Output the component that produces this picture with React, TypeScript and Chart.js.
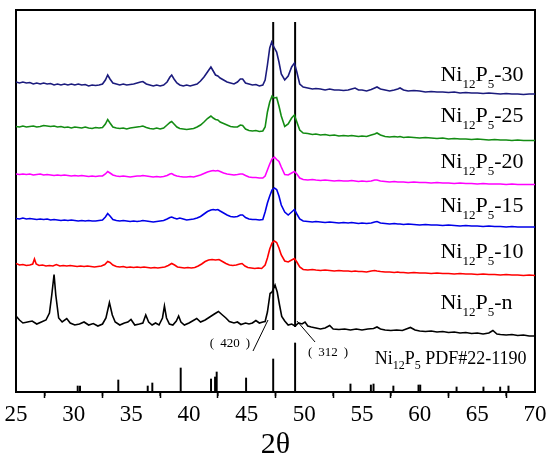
import { useEffect, useRef } from "react";
import { Chart, registerables, type Plugin } from "chart.js";

Chart.register(...registerables);

type Pt = [number, number];

// intensities in arbitrary units, already offset per sample (stacked pattern)
const sample30: Pt[] = [
  [25, 310], [25.3, 309], [25.6, 310], [25.9, 309], [26.2, 309.5], [26.5, 308], [26.8, 309], [27.1, 308],
  [27.4, 309], [27.7, 308], [28.0, 308.5], [28.3, 307], [28.6, 308], [28.9, 307], [29.2, 308], [29.5, 307],
  [29.8, 308], [30.1, 307], [30.4, 308], [30.7, 307], [31.0, 307.5], [31.3, 306], [31.6, 307], [31.9, 306.5],
  [32.2, 307], [32.5, 308], [32.75, 312], [32.95, 317], [33.15, 313], [33.4, 309], [33.7, 308], [34.0, 307],
  [34.3, 308], [34.6, 307], [34.9, 307.5], [35.2, 308], [35.5, 309], [35.8, 310], [36.0, 310.5], [36.3, 308],
  [36.6, 307], [36.9, 306], [37.2, 307], [37.5, 306], [37.8, 307], [38.1, 310], [38.35, 315], [38.5, 317],
  [38.7, 313], [38.95, 309], [39.2, 307], [39.5, 306], [39.8, 307], [40.1, 306], [40.4, 307], [40.7, 308],
  [41.0, 311], [41.3, 315], [41.6, 320], [41.9, 325], [42.1, 321], [42.3, 317], [42.5, 316], [42.7, 314],
  [43.0, 312], [43.3, 310], [43.6, 309], [43.9, 308], [44.2, 310], [44.45, 313], [44.65, 313], [44.9, 309],
  [45.2, 308], [45.5, 307], [45.8, 307.5], [46.1, 306], [46.4, 307], [46.6, 312], [46.8, 327], [47.0, 344],
  [47.17, 350], [47.35, 345], [47.6, 340], [47.8, 330], [48.0, 318], [48.3, 312], [48.6, 316], [48.9, 325],
  [49.14, 329], [49.35, 320], [49.6, 308], [49.9, 305], [50.3, 304], [50.7, 303], [51.0, 303.5], [51.4, 303],
  [51.8, 302], [52.2, 303], [52.6, 302], [53.0, 302], [53.4, 301.5], [53.8, 302], [54.1, 303], [54.4, 304],
  [54.7, 302], [55.0, 302], [55.4, 301], [55.8, 302.5], [56.1, 304], [56.3, 305], [56.6, 303], [57.0, 302],
  [57.4, 301], [57.8, 302], [58.1, 303], [58.3, 304], [58.6, 302], [59.0, 301], [59.5, 301.5], [60.0, 301],
  [60.5, 300], [61.0, 300.5], [61.5, 300], [62.0, 300], [62.5, 299.5], [63.0, 300], [63.5, 299], [64.0, 299.5],
  [64.5, 299], [65.0, 299], [65.5, 298.5], [66.0, 299], [66.5, 298.5], [67.0, 298], [67.5, 298.5], [68.0, 298],
  [68.5, 298], [69.0, 297.5], [69.5, 298], [70.0, 298],
];

const sample25: Pt[] = [
  [25, 265.5], [25.3, 265], [25.6, 266], [25.9, 265], [26.2, 265.5], [26.5, 266], [26.8, 265], [27.1, 265.5],
  [27.4, 266.5], [27.7, 266], [28.0, 265.5], [28.3, 266], [28.6, 265], [28.9, 265.5], [29.2, 264.5], [29.5, 265],
  [29.8, 264], [30.1, 265], [30.4, 264.5], [30.7, 264], [31.0, 265], [31.3, 264], [31.6, 263.5], [31.9, 264.5],
  [32.2, 264], [32.5, 264.5], [32.75, 268], [32.95, 272.5], [33.15, 269], [33.4, 265], [33.7, 264], [34.0, 263.5],
  [34.3, 264], [34.6, 263], [34.9, 264], [35.2, 264.5], [35.5, 265], [35.8, 265.5], [36.0, 266], [36.3, 264.5],
  [36.6, 263.5], [36.9, 263], [37.2, 264], [37.5, 263], [37.8, 264], [38.1, 267], [38.35, 269.5], [38.5, 270.5],
  [38.7, 268], [38.95, 265], [39.2, 263.5], [39.5, 263], [39.8, 262.5], [40.1, 263], [40.4, 263.5], [40.7, 265],
  [41.0, 267], [41.3, 270], [41.6, 273.5], [41.9, 276], [42.1, 274], [42.3, 272.5], [42.5, 272], [42.7, 270],
  [43.0, 268.5], [43.3, 267], [43.6, 265.5], [43.9, 265], [44.2, 265], [44.45, 267], [44.65, 266.5], [44.9, 263],
  [45.2, 261.5], [45.5, 261], [45.8, 261.5], [46.1, 260.5], [46.4, 261], [46.6, 265], [46.8, 280], [47.0, 290],
  [47.2, 296], [47.4, 294], [47.6, 294.5], [47.8, 286], [48.0, 276], [48.3, 265.5], [48.6, 268], [48.9, 274],
  [49.14, 277], [49.35, 270], [49.6, 262], [49.9, 259], [50.3, 258.5], [50.7, 257.5], [51.0, 258], [51.4, 257],
  [51.8, 257.5], [52.2, 256.5], [52.6, 257], [53.0, 256], [53.4, 256.5], [53.8, 256], [54.1, 256.5], [54.4, 256],
  [54.7, 255.5], [55.0, 256], [55.4, 255.5], [55.8, 257], [56.1, 258], [56.3, 259], [56.6, 257], [57.0, 255.5],
  [57.4, 255], [57.8, 255.5], [58.1, 255], [58.3, 255.5], [58.6, 254.5], [59.0, 255], [59.5, 254.5], [60.0, 254],
  [60.5, 254.5], [61.0, 254], [61.5, 253.5], [62.0, 254], [62.5, 253], [63.0, 253.5], [63.5, 253], [64.0, 253],
  [64.5, 252.5], [65.0, 253], [65.5, 252.5], [66.0, 252], [66.5, 252.5], [67.0, 252], [67.5, 252], [68.0, 251.5],
  [68.5, 252], [69.0, 251.5], [69.5, 251.5], [70.0, 251.5],
];

const sample20: Pt[] = [
  [25, 218], [25.3, 217.5], [25.6, 218], [25.9, 217.5], [26.2, 218], [26.5, 217], [26.8, 217.5], [27.1, 218],
  [27.4, 217], [27.7, 217.5], [28.0, 217], [28.3, 216.5], [28.6, 217], [28.9, 216.5], [29.2, 217], [29.5, 216.5],
  [29.8, 216], [30.1, 216.5], [30.4, 216], [30.7, 216.5], [31.0, 216], [31.3, 215.5], [31.6, 216], [31.9, 215.5],
  [32.2, 216], [32.5, 216], [32.75, 218], [32.95, 220.5], [33.15, 219], [33.4, 217], [33.7, 216], [34.0, 215.5],
  [34.3, 216], [34.6, 215.5], [34.9, 215], [35.2, 215.5], [35.5, 216], [35.8, 216], [36.0, 216.5], [36.3, 216],
  [36.6, 215.5], [36.9, 215], [37.2, 215.5], [37.5, 215], [37.8, 215.5], [38.1, 216.5], [38.35, 218], [38.5, 218.5],
  [38.7, 217], [38.95, 216], [39.2, 215.5], [39.5, 215], [39.8, 215], [40.1, 215.5], [40.4, 215], [40.7, 216],
  [41.0, 217], [41.3, 218.5], [41.6, 220], [41.9, 221], [42.1, 221.5], [42.3, 221], [42.5, 221.5], [42.7, 220.5],
  [43.0, 219], [43.3, 218], [43.6, 217.5], [43.9, 217], [44.2, 217.5], [44.45, 218], [44.65, 218], [44.9, 216.5],
  [45.2, 215], [45.5, 214.5], [45.8, 214.5], [46.1, 214], [46.4, 214], [46.6, 216], [46.8, 222], [47.0, 228],
  [47.2, 233], [47.4, 235], [47.6, 232.5], [47.8, 230.5], [48.0, 225], [48.3, 217.5], [48.6, 217], [48.9, 219],
  [49.14, 220.5], [49.35, 218], [49.6, 214], [49.9, 212.5], [50.3, 212], [50.7, 212.5], [51.0, 212], [51.4, 211.5],
  [51.8, 212], [52.2, 211.5], [52.6, 211], [53.0, 211.5], [53.4, 211], [53.8, 211], [54.1, 211.5], [54.4, 211],
  [54.7, 210.5], [55.0, 211], [55.4, 210.5], [55.8, 211], [56.1, 212], [56.3, 212], [56.6, 211], [57.0, 210.5],
  [57.4, 210], [57.8, 210.5], [58.1, 210], [58.3, 210], [58.6, 210], [59.0, 209.5], [59.5, 210], [60.0, 209.5],
  [60.5, 209.5], [61.0, 209], [61.5, 209.5], [62.0, 209], [62.5, 209], [63.0, 208.5], [63.5, 209], [64.0, 208.5],
  [64.5, 208.5], [65.0, 208], [65.5, 208.5], [66.0, 208], [66.5, 208], [67.0, 208], [67.5, 207.5], [68.0, 208],
  [68.5, 207.5], [69.0, 207.5], [69.5, 207.5], [70.0, 207.5],
];

const sample15: Pt[] = [
  [25, 173.5], [25.3, 173], [25.6, 174], [25.9, 173], [26.2, 173.5], [26.5, 173], [26.8, 172.5], [27.1, 173],
  [27.4, 172.5], [27.7, 173], [28.0, 172], [28.3, 172.5], [28.6, 172], [28.9, 171.5], [29.2, 172], [29.5, 171.5],
  [29.8, 172], [30.1, 171.5], [30.4, 171], [30.7, 171.5], [31.0, 171], [31.3, 171.5], [31.6, 171], [31.9, 171],
  [32.2, 171.5], [32.5, 172], [32.75, 175], [32.95, 178.5], [33.15, 176], [33.4, 172.5], [33.7, 171.5], [34.0, 171],
  [34.3, 171.5], [34.6, 171], [34.9, 170.5], [35.2, 171], [35.5, 170.5], [35.8, 171], [36.0, 171.5], [36.3, 171],
  [36.6, 170.5], [36.9, 170], [37.2, 170.5], [37.5, 171], [37.8, 171.5], [38.1, 173], [38.35, 174.5], [38.5, 175],
  [38.7, 174], [38.95, 173], [39.2, 174], [39.5, 173], [39.8, 172], [40.1, 172.5], [40.4, 173], [40.7, 174],
  [41.0, 175.5], [41.3, 178], [41.6, 180.5], [41.9, 182], [42.1, 182.5], [42.3, 182], [42.5, 182.5], [42.7, 181],
  [43.0, 179], [43.3, 177], [43.6, 175.5], [43.9, 175], [44.2, 175.5], [44.45, 177], [44.65, 177], [44.9, 174.5],
  [45.2, 173], [45.5, 172.5], [45.8, 172.5], [46.1, 172], [46.4, 172.5], [46.6, 180], [46.8, 189], [47.0, 196],
  [47.2, 202], [47.4, 204], [47.6, 202.5], [47.8, 196], [48.0, 187], [48.3, 180], [48.6, 177], [48.9, 180],
  [49.14, 182.5], [49.35, 178], [49.6, 173], [49.9, 171], [50.3, 170.5], [50.7, 170], [51.0, 170.5], [51.4, 170],
  [51.8, 169.5], [52.2, 170], [52.6, 169.5], [53.0, 169], [53.4, 169.5], [53.8, 169], [54.1, 169.5], [54.4, 169],
  [54.7, 168.5], [55.0, 169], [55.4, 168.5], [55.8, 169], [56.1, 170], [56.3, 170.5], [56.6, 169], [57.0, 168.5],
  [57.4, 168], [57.8, 168.5], [58.1, 168], [58.3, 168], [58.6, 167.5], [59.0, 168], [59.5, 167.5], [60.0, 167],
  [60.5, 167.5], [61.0, 167], [61.5, 167], [62.0, 166.5], [62.5, 167], [63.0, 166.5], [63.5, 166], [64.0, 166.5],
  [64.5, 166], [65.0, 166], [65.5, 165.5], [66.0, 166], [66.5, 165.5], [67.0, 165.5], [67.5, 165], [68.0, 165.5],
  [68.5, 165], [69.0, 165], [69.5, 165], [70.0, 165],
];

const sample10: Pt[] = [
  [25, 128.5], [25.3, 127], [25.6, 127.5], [25.9, 126.5], [26.2, 127], [26.45, 128], [26.6, 133], [26.75, 128],
  [27.0, 126.5], [27.3, 127], [27.6, 126], [27.9, 126.5], [28.2, 126], [28.5, 127.5], [28.8, 126], [29.1, 126.5],
  [29.4, 126], [29.7, 126.5], [30.0, 126], [30.3, 125.5], [30.6, 126], [30.9, 125.5], [31.2, 126], [31.5, 125.5],
  [31.8, 125], [32.1, 125.5], [32.4, 126], [32.7, 127.5], [32.95, 130.5], [33.15, 129.5], [33.4, 127], [33.7, 125.5],
  [34.0, 125], [34.3, 125.5], [34.6, 124.5], [34.9, 125], [35.2, 124.5], [35.5, 125], [35.8, 124.5], [36.1, 125],
  [36.4, 124.5], [36.7, 124], [37.0, 124.5], [37.3, 124], [37.6, 124.5], [37.9, 125], [38.2, 126.5], [38.5, 128.5],
  [38.75, 127], [39.0, 125], [39.3, 124.5], [39.6, 124], [39.9, 124.5], [40.2, 124], [40.5, 124.5], [40.8, 126],
  [41.1, 128], [41.4, 130.5], [41.7, 132], [42.0, 132.5], [42.3, 132], [42.6, 132.5], [42.9, 130.5], [43.2, 128.5],
  [43.5, 127], [43.8, 126.5], [44.1, 127], [44.4, 128], [44.6, 128.5], [44.85, 126], [45.1, 124.5], [45.4, 124],
  [45.7, 123.5], [46.0, 124], [46.3, 123.5], [46.6, 127], [46.8, 134], [47.0, 143], [47.2, 149], [47.4, 151],
  [47.6, 149.5], [47.8, 144], [48.0, 137], [48.3, 131], [48.6, 130], [48.9, 132], [49.14, 133.5], [49.35, 130],
  [49.6, 125], [49.9, 122.5], [50.3, 122], [50.7, 122.5], [51.0, 122], [51.4, 121.5], [51.8, 122], [52.2, 121.5],
  [52.6, 121], [53.0, 121.5], [53.4, 121], [53.8, 121], [54.1, 120.5], [54.4, 121], [54.7, 120.5], [55.0, 120.5],
  [55.4, 120], [55.8, 121], [56.1, 121.5], [56.3, 121], [56.6, 120.5], [57.0, 120], [57.4, 120], [57.8, 119.5],
  [58.1, 120], [58.3, 119.5], [58.6, 119.5], [59.0, 119], [59.5, 119.5], [60.0, 119], [60.5, 119], [61.0, 118.5],
  [61.5, 119], [62.0, 118.5], [62.5, 118.5], [63.0, 118], [63.5, 118.5], [64.0, 118], [64.5, 118], [65.0, 117.5],
  [65.5, 118], [66.0, 117.5], [66.5, 117.5], [67.0, 117], [67.5, 117.5], [68.0, 117], [68.5, 117], [69.0, 116.5],
  [69.5, 117], [70.0, 116.5],
];

const sampleN: Pt[] = [
  [25, 76], [25.3, 72], [25.6, 69], [26.0, 70], [26.4, 71], [26.8, 68], [27.2, 70], [27.6, 72],
  [27.9, 79], [28.1, 97], [28.3, 117.5], [28.45, 97], [28.7, 74], [29.0, 70], [29.4, 73.5], [29.7, 69],
  [30.1, 67], [30.5, 68], [30.9, 70], [31.3, 67], [31.7, 68.5], [32.1, 66], [32.5, 68], [32.8, 74],
  [33.1, 89.5], [33.35, 77], [33.6, 70], [34.0, 67], [34.4, 69], [34.7, 70], [34.97, 72.5], [35.3, 67],
  [35.7, 68], [36.0, 69], [36.25, 77], [36.5, 70], [36.8, 67], [37.1, 69], [37.4, 67], [37.7, 74],
  [37.87, 86], [38.05, 74], [38.3, 68], [38.6, 67], [38.9, 71], [39.1, 76], [39.3, 70], [39.6, 67],
  [40.0, 69], [40.3, 71], [40.67, 73.5], [41.0, 70], [41.4, 72], [41.8, 75], [42.2, 78], [42.55, 80.5],
  [42.9, 77], [43.2, 74], [43.5, 70.5], [43.9, 69], [44.2, 70], [44.5, 67.5], [44.9, 69], [45.2, 68],
  [45.5, 69], [45.8, 71.5], [46.1, 69], [46.4, 70], [46.6, 70.5], [46.8, 80], [47.03, 98.5], [47.2, 100],
  [47.46, 107], [47.65, 100], [47.85, 87], [48.04, 75.5], [48.3, 71], [48.6, 67], [48.9, 68], [49.2, 66],
  [49.5, 69], [49.8, 68], [50.06, 70], [50.3, 66], [50.6, 65], [51.0, 64], [51.4, 63], [51.8, 64],
  [52.2, 66.5], [52.5, 63], [53.0, 62.5], [53.5, 63], [54.0, 62], [54.5, 63], [55.0, 62], [55.5, 63],
  [56.0, 63.5], [56.3, 65], [56.6, 63], [57.0, 62], [57.5, 61.5], [58.0, 62], [58.5, 61.5], [59.2, 64.5],
  [59.6, 62], [60.0, 61], [60.5, 60.5], [61.0, 61], [61.5, 60], [62.0, 60.5], [62.5, 59.5], [63.0, 60],
  [63.5, 59], [64.0, 59.5], [64.5, 58.5], [65.0, 59], [65.5, 58], [66.0, 59], [66.35, 61.5], [66.7, 58],
  [67.0, 57.5], [67.5, 57], [68.0, 57.5], [68.5, 56.5], [69.0, 57], [69.5, 56], [70.0, 56],
];

const sampleSeries = [sample30, sample25, sample20, sample15, sample10, sampleN];
const sampleNames = ["-30", "-25", "-20", "-15", "-10", "-n"];
const sampleColors = ["#1b1b7d", "#138c13", "#ff00ff", "#0000e8", "#ff0000", "#000000"];
const labelIntensity = [311, 270, 224, 180, 134, 83];
const labelTheta = 61.8;

// Ni12P5 PDF#22-1190 reference sticks: [2θ, relative height]
const pdfSticks: Pt[] = [
  [30.35, 6], [30.55, 6], [33.87, 12], [36.42, 6], [36.82, 9], [39.28, 24], [41.91, 13], [42.26, 15],
  [42.4, 20], [44.95, 14], [47.3, 33], [49.2, 49], [54.0, 8], [55.77, 7], [56.0, 8], [57.72, 6],
  [59.9, 7], [60.05, 7], [63.2, 5], [65.53, 5], [66.98, 5], [67.7, 6],
];
const pdfLabelAt: Pt = [56.1, 28];

// guide lines through the (420) and (312) reflections
const refPeaks = [47.3, 49.2];
const refTop = 370;
const refBottom = [62, 65];

const hklLabels = ["420", "312"];
const hklTextAt: Pt[] = [[43.55, 45], [52.05, 36]];
const hklLeaders: [Pt, Pt][] = [
  [[45.55, 41], [46.85, 72]],
  [[49.36, 71], [50.93, 50]],
];

const minorTicks = [27.5, 32.5, 37.5, 42.5, 47.5, 52.5, 57.5, 62.5, 67.5];

const serif = '"Liberation Serif", "Times New Roman", serif';

function drawChem(ctx: CanvasRenderingContext2D, x: number, y: number, suffix: string, main: number, sub: number) {
  const parts: [string, boolean][] = [["Ni", false], ["12", true], ["P", false], ["5", true], [suffix, false]];
  let cx = x;
  for (const [t, isSub] of parts) {
    ctx.font = `${isSub ? sub : main}px ${serif}`;
    ctx.fillText(t, cx, isSub ? y + main * 0.3 : y);
    cx += ctx.measureText(t).width;
  }
}

// "（hkl）": wide brackets with a gap round the serif digits, centred on cx
function drawHkl(ctx: CanvasRenderingContext2D, cx: number, y: number, hkl: string) {
  ctx.font = `13px ${serif}`;
  const dw = ctx.measureText(hkl).width;
  const bw = ctx.measureText("(").width;
  const gap = 6;
  ctx.textAlign = "center";
  ctx.fillText(hkl, cx, y);
  ctx.fillText("(", cx - dw / 2 - gap - bw / 2, y);
  ctx.fillText(")", cx + dw / 2 + gap + bw / 2, y);
}

const decor: Plugin<"line"> = {
  id: "decor",
  afterDraw(chart) {
    const { ctx, chartArea: a, scales } = chart;
    const xs = scales.x;
    const ys = scales.y;
    ctx.save();
    ctx.strokeStyle = "#000";
    ctx.fillStyle = "#000";
    ctx.lineWidth = 1.5;
    for (const t of minorTicks) {
      const px = xs.getPixelForValue(t);
      ctx.beginPath();
      ctx.moveTo(px, a.bottom);
      ctx.lineTo(px, a.bottom + 4);
      ctx.stroke();
    }

    ctx.textAlign = "left";
    ctx.textBaseline = "alphabetic";
    sampleNames.forEach((name, i) => {
      drawChem(ctx, xs.getPixelForValue(labelTheta), ys.getPixelForValue(labelIntensity[i]), name, 22, 13);
    });
    drawChem(ctx, xs.getPixelForValue(pdfLabelAt[0]), ys.getPixelForValue(pdfLabelAt[1]), " PDF#22-1190", 18, 12);

    hklLabels.forEach((t, i) => {
      drawHkl(ctx, xs.getPixelForValue(hklTextAt[i][0]), ys.getPixelForValue(hklTextAt[i][1]), t);
    });
    ctx.restore();
  },
};

// axes that only draw the frame of the plot box
const frameAxis = {
  type: "linear" as const,
  ticks: { display: false },
  grid: { drawOnChartArea: false, drawTicks: false },
  border: { display: true, color: "#000", width: 2 },
};

export default function App() {
  const canvasRef = useRef<HTMLCanvasElement>(null);

  useEffect(() => {
    document.body.style.margin = "0";
    const canvas = canvasRef.current;
    if (!canvas) return;

    const lines = sampleSeries.map((s, i) => ({
      type: "line" as const,
      data: s.map(([x, y]) => ({ x, y })),
      borderColor: sampleColors[i],
      borderWidth: 1.6,
      pointRadius: 0,
      tension: 0,
    }));
    const guides = refPeaks.map((p, i) => ({
      type: "line" as const,
      data: [{ x: p, y: refBottom[i] }, { x: p, y: refTop }],
      borderColor: "#000",
      borderWidth: 2,
      pointRadius: 0,
    }));
    const leaders = hklLeaders.map(([p, q]) => ({
      type: "line" as const,
      data: [{ x: p[0], y: p[1] }, { x: q[0], y: q[1] }],
      borderColor: "#000",
      borderWidth: 1,
      pointRadius: 0,
    }));
    const sticks = {
      type: "bar" as const,
      data: pdfSticks.map(([x, y]) => ({ x, y })),
      backgroundColor: "#000",
      barThickness: 1.3,
    };

    const chart = new Chart(canvas, {
      type: "line",
      data: { datasets: [...lines, ...guides, ...leaders, sticks] as any },
      options: {
        animation: false,
        responsive: true,
        maintainAspectRatio: false,
        layout: { padding: { left: 16, right: 15, top: 10, bottom: 0 } },
        plugins: { legend: { display: false }, tooltip: { enabled: false } },
        scales: {
          x: {
            type: "linear",
            min: 25,
            max: 70,
            offset: false,
            afterFit: (s: any) => {
              s.height = 71;
            },
            ticks: {
              stepSize: 5,
              autoSkip: false,
              maxRotation: 0,
              color: "#000",
              padding: 3,
              font: { family: serif, size: 23 },
            },
            grid: {
              drawOnChartArea: false,
              drawTicks: true,
              tickLength: 6,
              tickWidth: 1.5,
              tickColor: "#000",
            },
            border: { display: true, color: "#000", width: 2 },
            title: {
              display: true,
              text: "2θ",
              color: "#000",
              font: { family: serif, size: 30 },
              padding: { top: 0, bottom: 0 },
            },
          },
          xTop: { ...frameAxis, position: "top", min: 25, max: 70, afterFit: (s: any) => { s.height = 0; } },
          y: { ...frameAxis, position: "left", min: 0, max: 382, afterFit: (s: any) => { s.width = 0; } },
          yRight: { ...frameAxis, position: "right", min: 0, max: 382, afterFit: (s: any) => { s.width = 0; } },
        },
      },
      plugins: [decor],
    });

    return () => chart.destroy();
  }, []);

  return (
    <div style={{ position: "relative", width: 550, height: 463 }}>
      <canvas ref={canvasRef} />
    </div>
  );
}
